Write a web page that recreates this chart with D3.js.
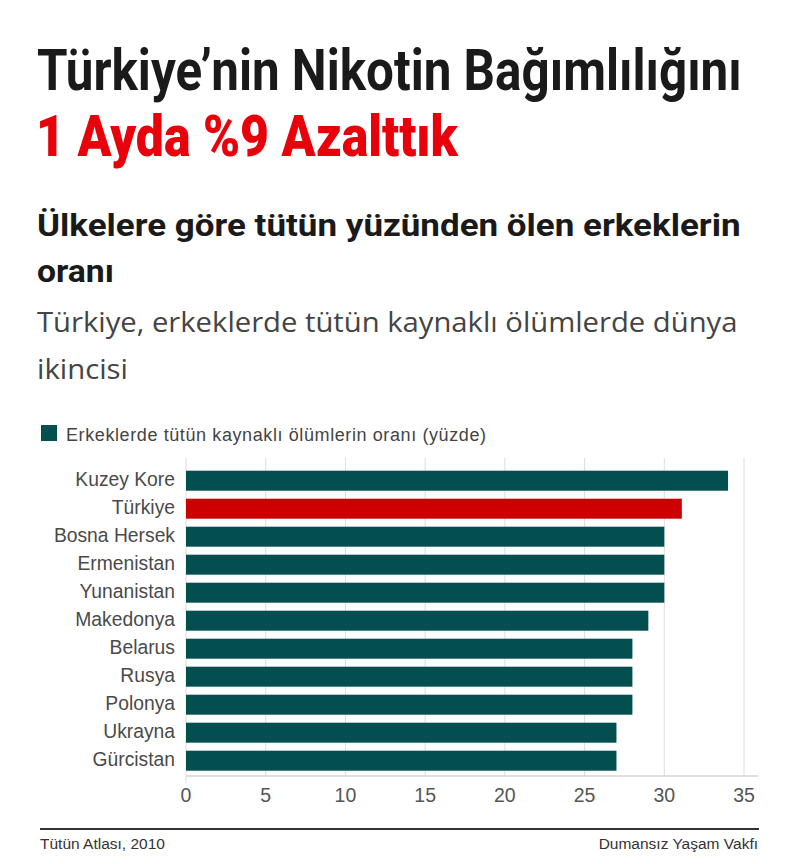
<!DOCTYPE html>
<html>
<head>
<meta charset="utf-8">
<script src="https://cdn.jsdelivr.net/npm/d3@7"></script>
<style>
  body { margin: 0; background: #fff; }
  text { font-family: "Liberation Sans", Arial, sans-serif; }
  .head { font-family: Roboto, "Open Sans", sans-serif; }
</style>
</head>
<body>
<svg id="chart"></svg>
<script>
'use strict';

// data
var countries = ['Kuzey Kore', 'Türkiye', 'Bosna Hersek', 'Ermenistan', 'Yunanistan',
                 'Makedonya', 'Belarus', 'Rusya', 'Polonya', 'Ukrayna', 'Gürcistan'];
var values = [34, 31.1, 30, 30, 30, 29, 28, 28, 28, 27, 27];
var highlight = 'Türkiye';
var xTicks = [0, 5, 10, 15, 20, 25, 30, 35];

var titleLines = ['Türkiye’nin Nikotin Bağımlılığını', '1 Ayda %9 Azalttık'];
var subtitleLines = ['Ülkelere göre tütün yüzünden ölen erkeklerin', 'oranı'];
var introLines = ['Türkiye, erkeklerde tütün kaynaklı ölümlerde dünya', 'ikincisi'];
var legendLabel = 'Erkeklerde tütün kaynaklı ölümlerin oranı (yüzde)';
var sourceLeft = 'Tütün Atlası, 2010';
var sourceRight = 'Dumansız Yaşam Vakfı';

var width = 800, height = 864;
var teal = '#034e4f', red = '#cc0000';

var svg = d3.select('#chart').attr('width', width).attr('height', height);

// squeeze a heading line horizontally so it spans the given width
function condensed(str, x0, y0, w, size, weight, fill, family) {
    var g = svg.append('g');
    var t = g.append('text').attr('class', 'head')
        .attr('font-size', size).attr('font-weight', weight).attr('fill', fill)
        .text(str);
    if (family) t.style('font-family', family);
    var len = t.node().getComputedTextLength();
    g.attr('transform', 'translate(' + x0 + ',' + y0 + ') scale(' + (w / len) + ',1)');
    return t;
}

// headline
condensed(titleLines[0], 37, 90, 705, 57, 700, '#1a1a1a');
condensed(titleLines[1], 36, 156, 422, 57, 900, '#e8000b');

// subtitle
var subW = [704, 77];
subtitleLines.forEach(function (s, i) {
    condensed(s, 37, 236 + i * 46, subW[i], 32, 700, '#1a1a1a');
});

var introW = [701, 91];
introLines.forEach(function (s, i) {
    condensed(s, 37, 332 + i * 47, introW[i], 27, 400, '#444', '"Open Sans", sans-serif');
});

// legend
svg.append('rect').attr('x', 41).attr('y', 425).attr('width', 16).attr('height', 16).attr('fill', teal);
svg.append('text').attr('x', 66).attr('y', 441)
    .attr('font-size', 18).attr('fill', '#444')
    .attr('textLength', 420).attr('lengthAdjust', 'spacing')
    .text(legendLabel);

// scales
var x = d3.scaleLinear().domain([0, 35]).range([186, 744]);
var y = d3.scaleBand().domain(countries).range([466.7, 774.7])
    .paddingInner(0.2857).paddingOuter(0.1429);
var plotTop = 458, plotBottom = 776, plotRight = 758;

// grid
svg.append('g').selectAll('line').data(xTicks).join('line')
    .attr('x1', function (d) { return x(d); }).attr('x2', function (d) { return x(d); })
    .attr('y1', plotTop).attr('y2', function (d) { return d === 0 ? plotBottom + 7 : plotBottom; })
    .attr('stroke', '#dcdcdc').attr('stroke-width', 1);

svg.append('line')
    .attr('x1', x(0)).attr('x2', plotRight).attr('y1', plotBottom).attr('y2', plotBottom)
    .attr('stroke', '#d4d4d4').attr('stroke-width', 1.5);

// bars
svg.append('g').selectAll('rect').data(countries).join('rect')
    .attr('x', x(0))
    .attr('y', function (d) { return y(d); })
    .attr('width', function (d, i) { return x(values[i]) - x(0); })
    .attr('height', y.bandwidth())
    .attr('fill', function (d) { return d === highlight ? red : teal; });

// category labels
svg.append('g').selectAll('text').data(countries).join('text')
    .attr('x', 175)
    .attr('y', function (d) { return y(d) + y.bandwidth() / 2; })
    .attr('dy', '0.3em')
    .attr('text-anchor', 'end')
    .attr('font-size', 19.3).attr('fill', '#4a4a4a')
    .text(function (d) { return d; });

// tick labels
svg.append('g').selectAll('text').data(xTicks).join('text')
    .attr('x', function (d) { return x(d); })
    .attr('y', 802)
    .attr('text-anchor', 'middle')
    .attr('font-size', 19.5).attr('fill', '#555')
    .text(function (d) { return d; });

// footer
svg.append('line').attr('x1', 40).attr('x2', 759).attr('y1', 829).attr('y2', 829)
    .attr('stroke', '#333').attr('stroke-width', 2);
svg.append('text').attr('x', 40).attr('y', 849)
    .attr('font-size', 15.5).attr('fill', '#333').text(sourceLeft);
svg.append('text').attr('x', 758).attr('y', 849).attr('text-anchor', 'end')
    .attr('font-size', 15.5).attr('fill', '#333').text(sourceRight);
</script>
</body>
</html>
